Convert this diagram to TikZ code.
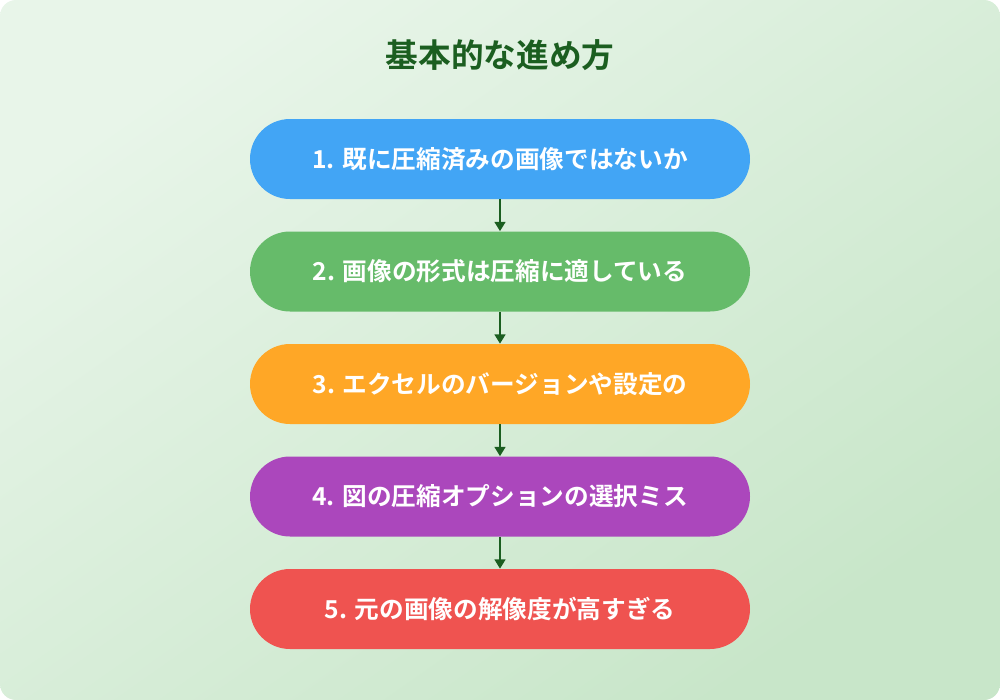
\documentclass[tikz,border=0pt]{standalone}
\usepackage{fontspec}
\setmainfont{Noto Sans CJK JP}[BoldFont={* Bold}]
\usetikzlibrary{arrows.meta}
\definecolor{bgA}{HTML}{E8F5E9}
\definecolor{bgB}{HTML}{C8E6C9}
\definecolor{ttl}{HTML}{1B5E20}
\definecolor{cA}{HTML}{42A5F5}
\definecolor{cB}{HTML}{66BB6A}
\definecolor{cC}{HTML}{FFA726}
\definecolor{cD}{HTML}{AB47BC}
\definecolor{cE}{HTML}{EF5350}
\tikzset{
  stepbox/.style={rounded corners=30pt, minimum width=375pt, minimum height=60pt, text=white, font=\bfseries\fontsize{18.5}{22}\selectfont, inner sep=0pt},
  conn/.style={draw=ttl, line width=2pt, -{Triangle[length=7pt,width=8pt]}}
}
\begin{document}
\begin{tikzpicture}[x=0.75pt,y=-0.75pt]
\useasboundingbox (0,0) rectangle (1000,700);
\shade[top color=bgA, bottom color=bgB, shading angle=35, rounded corners=12pt] (0,0) rectangle (1000,700);
\node[text=ttl, font=\bfseries\fontsize{24.5}{28}\selectfont] (title) at (500,55) {基本的な進め方};
\node[stepbox, fill=cA] (s1) at (500,159) {1. 既に圧縮済みの画像ではないか};
\node[stepbox, fill=cB] (s2) at (500,271.5) {2. 画像の形式は圧縮に適している};
\node[stepbox, fill=cC] (s3) at (500,384) {3. エクセルのバージョンや設定の};
\node[stepbox, fill=cD] (s4) at (500,496.5) {4. 図の圧縮オプションの選択ミス};
\node[stepbox, fill=cE] (s5) at (500,609) {5. 元の画像の解像度が高すぎる};
\foreach \a/\b in {s1/s2,s2/s3,s3/s4,s4/s5} \draw[conn] (\a) -- (\b);
\end{tikzpicture}
\end{document}
